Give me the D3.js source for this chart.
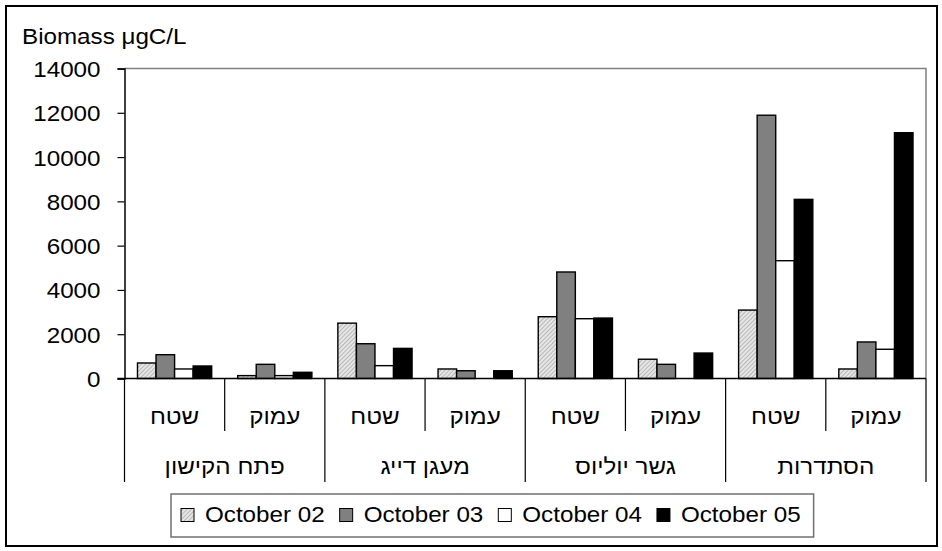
<!DOCTYPE html>
<html>
<head>
<meta charset="utf-8">
<script src="https://cdn.jsdelivr.net/npm/d3@7"></script>
<style>
  html, body { margin: 0; padding: 0; background: #fff; }
  svg { display: block; }
  text { font-family: Arial, "Liberation Sans", "DejaVu Sans", sans-serif; fill: #000; }
</style>
</head>
<body>
<svg id="chart" width="942" height="551"></svg>
<script>
// Sampling sites and depth levels
const sites = ["פתח הקישון", "מעגן דייג", "גשר יוליוס", "הסתדרות"];
const depths = ["שטח", "עמוק"];
const seriesNames = ["October 02", "October 03", "October 04", "October 05"];

// Biomass (µgC/L) per site/depth, in site order, surface then deep
const oct02 = [700, 130, 2500, 430, 2790, 870, 3090, 430];
const oct03 = [1075, 640, 1570, 350, 4810, 640, 11890, 1650];
const oct04 = [430, 130, 580, null, 2700, null, 5320, 1320];
const oct05 = [565, 280, 1360, 350, 2730, 1150, 8090, 11100];

const yTicks = [0, 2000, 4000, 6000, 8000, 10000, 12000, 14000];

const seriesValues = [oct02, oct03, oct04, oct05];
const slots = [];
sites.forEach((s, i) => depths.forEach((d, j) => slots.push({ site: s, depth: d, key: i + "-" + j })));

const svg = d3.select("#chart");
const STRETCH = 1.1;
const FONT = 22;

// text helper: horizontally widened glyphs
function label(g, x, y, str, anchor) {
  return g.append("text")
    .attr("transform", `translate(${x},${y}) scale(${STRETCH},1)`)
    .attr("text-anchor", anchor || "start")
    .style("font-size", FONT + "px")
    .text(str);
}

// hatch pattern for the first series
const defs = svg.append("defs");
const pat = defs.append("pattern")
  .attr("id", "hatch")
  .attr("patternUnits", "userSpaceOnUse")
  .attr("width", 3).attr("height", 3)
  .attr("patternTransform", "rotate(45)");
pat.append("rect").attr("width", 3).attr("height", 3).attr("fill", "#e6e6e6");
pat.append("line").attr("x1", 0).attr("y1", 0).attr("x2", 0).attr("y2", 3)
  .attr("stroke", "#9a9a9a").attr("stroke-width", 1.2);

const fills = ["url(#hatch)", "#808080", "#ffffff", "#000000"];

// outer frame
svg.append("rect")
  .attr("x", 6).attr("y", 6).attr("width", 931).attr("height", 540)
  .attr("fill", "#fff").attr("stroke", "#000").attr("stroke-width", 2);

const plot = { left: 124.5, right: 926, top: 68.5, bottom: 378.5 };

const x0 = d3.scaleBand().domain(slots.map(d => d.key)).range([plot.left, plot.right]).padding(0);
const x1 = d3.scaleBand().domain(d3.range(seriesNames.length)).range([0, x0.bandwidth()])
  .paddingInner(0).paddingOuter(0.7);
const y = d3.scaleLinear().domain([0, 14000]).range([plot.bottom, plot.top]);

// plot area frame (top and right)
svg.append("path")
  .attr("d", `M${plot.left},${plot.top}H${plot.right}V${plot.bottom}`)
  .attr("fill", "none").attr("stroke", "#808080").attr("stroke-width", 1.5);

// bars
const gBars = svg.append("g");
slots.forEach((slot, si) => {
  seriesValues.forEach((vals, k) => {
    const v = vals[si];
    if (v == null) return;
    gBars.append("rect")
      .attr("x", x0(slot.key) + x1(k))
      .attr("y", y(v))
      .attr("width", x1.bandwidth())
      .attr("height", y(0) - y(v))
      .attr("fill", fills[k])
      .attr("stroke", "#000")
      .attr("stroke-width", 1.4);
  });
});

// y axis
const yAxis = d3.axisLeft(y).tickValues(yTicks).tickSize(7).tickPadding(0).tickFormat(d3.format("d"));
const gY = svg.append("g").attr("transform", `translate(${plot.left},0)`).call(yAxis);
gY.select(".domain").attr("stroke", "#000").attr("stroke-width", 1.5);
gY.selectAll(".tick line").attr("stroke", "#000").attr("stroke-width", 1.2);
gY.selectAll(".tick text").remove();
gY.selectAll(".tick").each(function (d) {
  label(d3.select(this), -24, 8, String(d), "end");
});

// category axis baseline
svg.append("line")
  .attr("x1", plot.left - 7).attr("x2", plot.right)
  .attr("y1", plot.bottom).attr("y2", plot.bottom)
  .attr("stroke", "#000").attr("stroke-width", 1.5);

// dividers under the axis
const gCat = svg.append("g");
const edges = slots.map(d => x0(d.key)).concat([plot.right]);
edges.forEach((ex, i) => {
  const major = i % 2 === 0;
  gCat.append("line")
    .attr("x1", ex).attr("x2", ex)
    .attr("y1", plot.bottom).attr("y2", major ? 482 : 431)
    .attr("stroke", "#000").attr("stroke-width", 1.2);
});

// depth labels
slots.forEach(slot => {
  label(gCat, x0(slot.key) + x0.bandwidth() / 2, 424, slot.depth, "middle");
});
// site labels
sites.forEach((s, i) => {
  const a = x0(slots[i * 2].key);
  const b = x0(slots[i * 2 + 1].key) + x0.bandwidth();
  label(gCat, (a + b) / 2, 474, s, "middle");
});

// axis title
label(svg, 22, 44, "Biomass μgC/L", "start");

// legend
const legend = svg.append("g");
const lgLeft = 171, lgTop = 494, lgH = 43;
const box = legend.append("rect")
  .attr("x", lgLeft).attr("y", lgTop).attr("height", lgH)
  .attr("fill", "#fff").attr("stroke", "#707070").attr("stroke-width", 1.5);
let cx = lgLeft + 10;
seriesNames.forEach((name, k) => {
  legend.append("rect")
    .attr("x", cx).attr("y", 508.5).attr("width", 13).attr("height", 13)
    .attr("fill", fills[k]).attr("stroke", "#000").attr("stroke-width", 1);
  const t = label(legend, cx + 24, 522, name, "start");
  const w = t.node().getComputedTextLength() * STRETCH;
  cx += 24 + w + (k < seriesNames.length - 1 ? 15 : 13);
});
box.attr("width", cx - lgLeft);
</script>
</body>
</html>
